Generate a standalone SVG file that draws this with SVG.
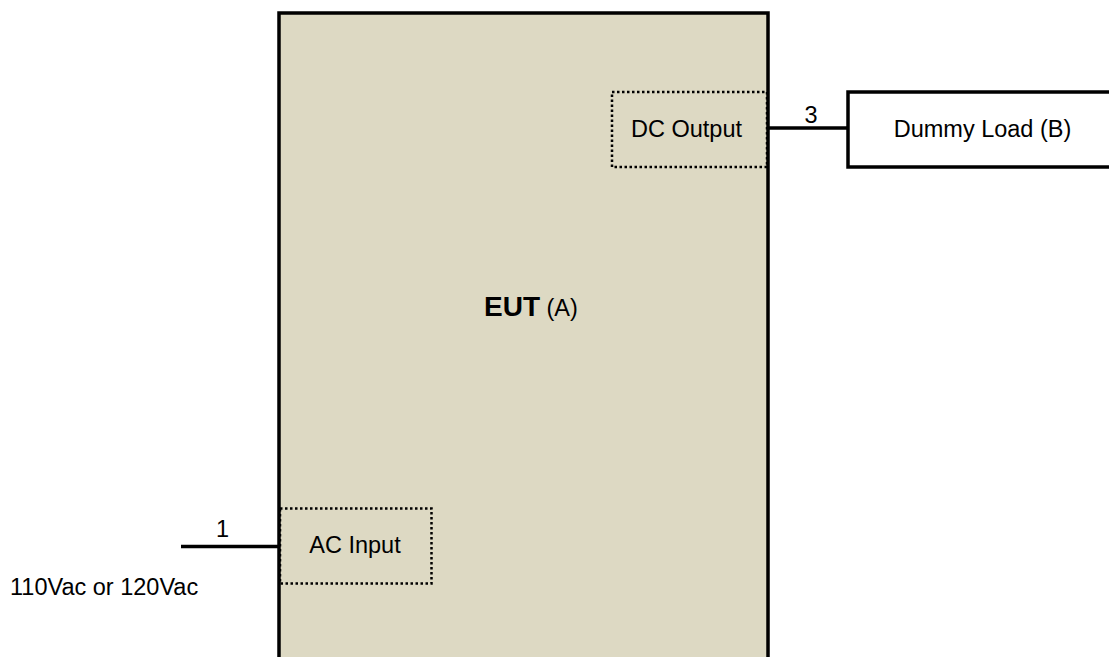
<svg xmlns="http://www.w3.org/2000/svg" width="1109" height="657" viewBox="0 0 1109 657">
<style>
.t{font-family:"Liberation Sans",Arial,sans-serif;font-size:23.5px;fill:#000}
.box{stroke:#000;stroke-width:3.5}
.dot{fill:none;stroke:#000;stroke-width:2.5;stroke-dasharray:2.5 2.5}
.wire{stroke:#000;stroke-width:3.5;fill:none}
</style>
<rect width="1109" height="657" fill="#fff"/>
<g id="eut">
<rect class="box" x="279" y="13" width="489" height="660" fill="#ddd9c3"/>
<text x="484" y="316" class="t"><tspan font-weight="bold" font-size="28px">EUT</tspan> (A)</text>
</g>
<g id="dc-output">
<rect class="dot" x="612" y="92" width="155" height="75"/>
<text x="686.5" y="137" class="t" text-anchor="middle">DC Output</text>
</g>
<g id="ac-input">
<rect class="dot" x="280" y="508.5" width="151.5" height="75"/>
<text x="355" y="553" class="t" text-anchor="middle">AC Input</text>
</g>
<g id="dummy-load">
<rect class="box" x="848" y="92" width="280" height="75" fill="#fff"/>
<text x="982.5" y="137" class="t" text-anchor="middle">Dummy Load (B)</text>
</g>
<g id="source">
<text x="10" y="595" class="t">110Vac or 120Vac</text>
</g>
<g id="connectors">
<line class="wire" x1="181" y1="546.5" x2="279" y2="546.5"/>
<text x="222.5" y="536.5" class="t" text-anchor="middle">1</text>
<line class="wire" x1="768" y1="128" x2="848" y2="128"/>
<text x="811" y="122.5" class="t" text-anchor="middle">3</text>
</g>
</svg>
